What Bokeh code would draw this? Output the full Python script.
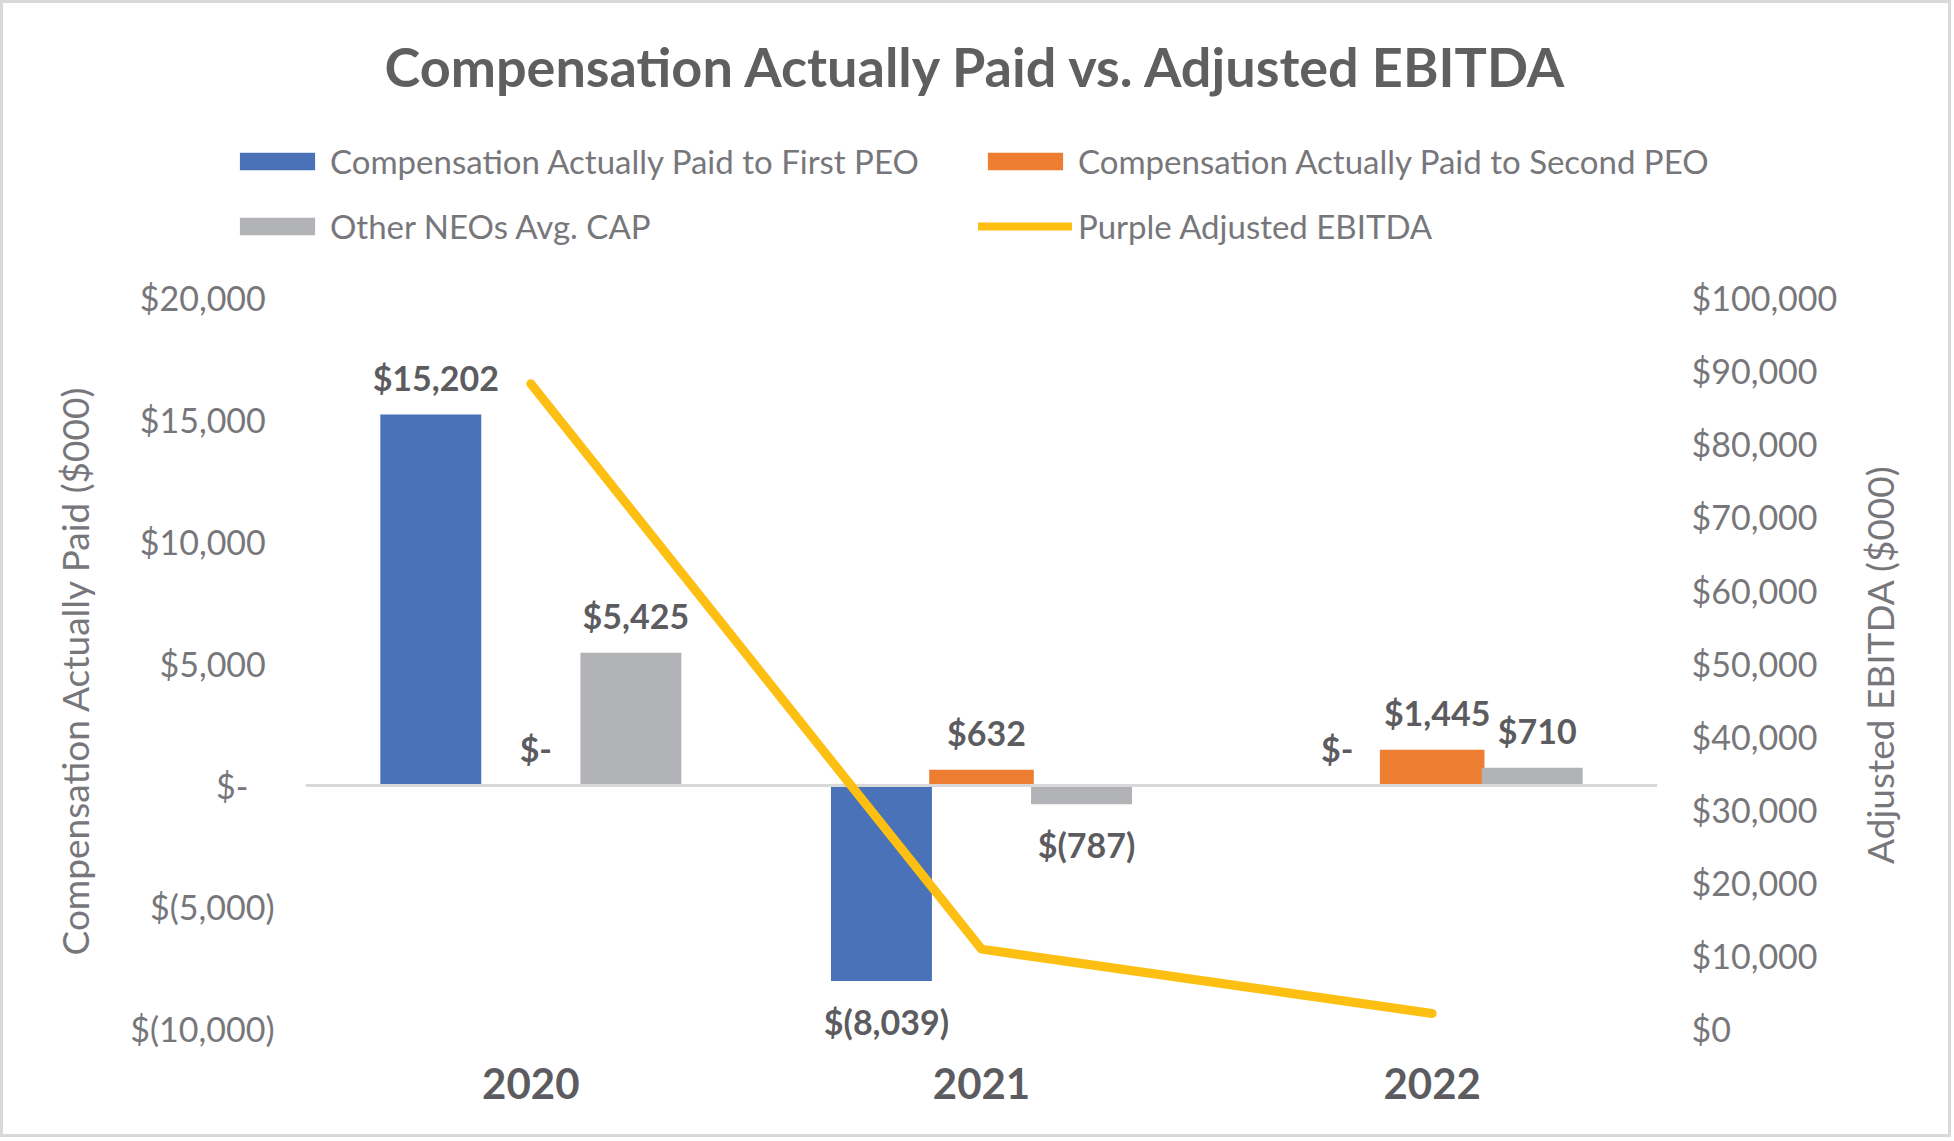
import math
from bokeh.plotting import figure
from bokeh.layouts import column, row
from bokeh.models import (FactorRange, Range1d, LinearAxis, FixedTicker,
                          ColumnDataSource, Legend, LegendItem, Label)
from bokeh.transform import dodge
from bokeh.core.properties import value
from bokeh.embed import file_html
from bokeh.resources import INLINE

# ---------------- data ----------------
years = ["2020", "2021", "2022"]
first_peo = [15202, -8039, 0]
second_peo = [0, 632, 1445]
other_neos = [5425, -787, 710]
ebitda = [88200, 10900, 2100]

left_ticks = [-10000, -5000, 0, 5000, 10000, 15000, 20000]
left_tick_labels = ["$(10,000)", "$(5,000)", "$-\u00a0\u00a0\u00a0",
                    "$5,000\u00a0", "$10,000\u00a0",
                    "$15,000\u00a0", "$20,000\u00a0"]
right_ticks = [0, 10000, 20000, 30000, 40000, 50000, 60000, 70000, 80000, 90000, 100000]
right_tick_labels = ["$0", "$10,000", "$20,000", "$30,000", "$40,000", "$50,000",
                     "$60,000", "$70,000", "$80,000", "$90,000", "$100,000"]

series_names = ["Compensation Actually Paid to First PEO",
                "Compensation Actually Paid to Second PEO",
                "Other NEOs Avg. CAP",
                "Purple Adjusted EBITDA"]

title_text = "Compensation Actually Paid vs. Adjusted EBITDA"
left_axis_title = "Compensation Actually Paid ($000)"
right_axis_title = "Adjusted EBITDA ($000)"

# ---------------- styles ----------------
FONT = "Lato"
BLUE = "#4a72b8"
ORANGE = "#ed7d31"
GREY = "#b2b3b6"
YELLOW = "#fdbf12"
TXT = "#5c5c60"
TICK = "#77777b"
FRAME = 3                 # outer light-grey border of the chart area
W = 1951 - 2 * FRAME
HEAD_H = 267 - FRAME


def fmt(v):
    if v == 0:
        return "$-"
    if v < 0:
        return "$({:,})".format(-v)
    return "${:,}".format(v)


def yoffs(vals):
    return [40 if v < 0 else -37 for v in vals]


src = ColumnDataSource(dict(
    years=years,
    first=first_peo, second=second_peo, other=other_neos, ebitda=ebitda,
    first_lbl=[fmt(v) for v in first_peo],
    second_lbl=[fmt(v) for v in second_peo],
    other_lbl=[fmt(v) for v in other_neos],
    first_off=yoffs(first_peo),
    second_off=yoffs(second_peo),
    other_off=yoffs(other_neos),
))

# ================= header (title + legend) =================
h = figure(width=W, height=HEAD_H, x_range=FactorRange(*years), y_range=Range1d(0, 1),
           x_axis_type=None, y_axis_type=None,
           output_backend="svg", toolbar_location=None,
           min_border_left=0, min_border_right=0, min_border_top=0, min_border_bottom=0)
h.background_fill_color = "white"
h.border_fill_color = "white"
h.outline_line_color = None
h.grid.visible = False

h.add_layout(Label(x=977 - FRAME, y=HEAD_H - (66 - FRAME), x_units="screen", y_units="screen",
                   text=title_text, text_font=FONT, text_font_style="bold",
                   text_font_size="54px", text_color="#5f5f5f",
                   text_align="center", text_baseline="middle"))

# hidden legend proxies carrying the series' styles
g1 = h.vbar(x="years", top="first", width=0.2, source=src,
            fill_color=BLUE, line_color=None, visible=False)
g2 = h.vbar(x="years", top="second", width=0.2, source=src,
            fill_color=ORANGE, line_color=None, visible=False)
g3 = h.vbar(x="years", top="other", width=0.2, source=src,
            fill_color=GREY, line_color=None, visible=False)
g4 = h.line(x="years", y="ebitda", source=src, line_color=YELLOW,
            line_width=8, line_cap="round", visible=False)

legend = Legend(items=[LegendItem(label=series_names[0], renderers=[g1]),
                       LegendItem(label=series_names[1], renderers=[g2]),
                       LegendItem(label=series_names[2], renderers=[g3]),
                       LegendItem(label=series_names[3], renderers=[g4])],
                orientation="horizontal", ncols=2, location=(230 - FRAME, 16))
legend.label_text_font = FONT
legend.label_text_font_size = "33px"
legend.label_text_color = TICK
legend.glyph_width = 94
legend.glyph_height = 22
legend.label_standoff = 6
legend.label_height = 50
legend.label_width = 633
legend.spacing = 15
legend.padding = 0
legend.margin = 0
legend.border_line_color = None
legend.background_fill_alpha = 0
legend.inactive_fill_alpha = 0
legend.click_policy = "none"
h.add_layout(legend)

# ================= main chart =================
# left range extended slightly below -10,000 so labels below bars are not clipped
FL = 305 - FRAME
FR = 190
TOP_B = 30
MAIN_H = 1137 - 2 * FRAME - HEAD_H
BOT_B = MAIN_H - TOP_B - 746
p = figure(frame_width=1352, frame_height=746,
           x_range=FactorRange(*years), y_range=Range1d(-10600, 20000),
           output_backend="svg", toolbar_location=None,
           min_border_left=FL, min_border_right=FR,
           min_border_top=TOP_B, min_border_bottom=BOT_B)
p.extra_y_ranges = {"ebitda": Range1d(-2000, 100000)}

p.background_fill_color = "white"
p.border_fill_color = "white"
p.outline_line_color = None
p.xgrid.visible = False
p.ygrid.visible = False

OFF = 0.222
BW = 0.224
b1 = p.vbar(x=dodge("years", -OFF, range=p.x_range), top="first", bottom=0,
            width=BW, source=src, fill_color=BLUE, line_color=None)
b2 = p.vbar(x=dodge("years", 0, range=p.x_range), top="second", bottom=0,
            width=BW + 0.008, source=src, fill_color=ORANGE, line_color=None)
b3 = p.vbar(x=dodge("years", OFF, range=p.x_range), top="other", bottom=0,
            width=BW, source=src, fill_color=GREY, line_color=None)

p.hspan(y=[0], line_color="#d9d9d9", line_width=3)

ln = p.line(x="years", y="ebitda", y_range_name="ebitda", source=src,
            line_color=YELLOW, line_width=9, line_cap="round", line_join="round")

for off, ycol, tcol, ocol in [(-OFF, "first", "first_lbl", "first_off"),
                              (0, "second", "second_lbl", "second_off"),
                              (OFF, "other", "other_lbl", "other_off")]:
    p.text(x=dodge("years", off, range=p.x_range), y=ycol, text=tcol,
           y_offset=ocol, x_offset=5, source=src,
           text_font=value(FONT), text_font_style="bold",
           text_font_size="34px", text_color=TXT,
           text_align="center", text_baseline="middle")

# ---------------- axes ----------------
xa = p.xaxis[0]
xa.axis_line_color = None
xa.major_tick_line_color = None
xa.minor_tick_line_color = None
xa.major_tick_out = 0
xa.major_tick_in = 0
xa.major_label_text_font = FONT
xa.major_label_text_font_style = "bold"
xa.major_label_text_font_size = "42px"
xa.major_label_text_color = TXT
xa.major_label_standoff = 24

ya = p.yaxis[0]
ya.ticker = FixedTicker(ticks=left_ticks)
ya.major_label_overrides = {t: l for t, l in zip(left_ticks, left_tick_labels)}
ya.axis_line_color = None
ya.major_tick_line_color = None
ya.minor_tick_line_color = None
ya.major_tick_out = 0
ya.major_tick_in = 0
ya.major_label_text_font = FONT
ya.major_label_text_font_size = "34px"
ya.major_label_text_color = TICK
ya.major_label_standoff = 31
ya.axis_label = left_axis_title
ya.axis_label_text_font = FONT
ya.axis_label_text_font_style = "normal"
ya.axis_label_text_font_size = "37px"
ya.axis_label_text_color = TICK
ya.axis_label_standoff = 30

# right axis: tick labels
yr = LinearAxis(y_range_name="ebitda", ticker=FixedTicker(ticks=right_ticks))
yr.major_label_overrides = {t: l for t, l in zip(right_ticks, right_tick_labels)}
yr.axis_line_color = None
yr.major_tick_line_color = None
yr.minor_tick_line_color = None
yr.major_tick_out = 0
yr.major_tick_in = 0
yr.major_label_text_font = FONT
yr.major_label_text_font_size = "34px"
yr.major_label_text_color = TICK
yr.major_label_standoff = 34
p.add_layout(yr, "right")

# ================= right-axis title strip (reads bottom-to-top) =================
MAIN_W = FL + 1352 + FR
SIDE_W = W - MAIN_W
s = figure(frame_width=SIDE_W, frame_height=746,
           x_range=Range1d(0, 1), y_range=Range1d(0, 1),
           x_axis_type=None, y_axis_type=None,
           output_backend="svg", toolbar_location=None,
           min_border_left=0, min_border_right=0,
           min_border_top=TOP_B, min_border_bottom=BOT_B)
s.background_fill_color = "white"
s.border_fill_color = "white"
s.outline_line_color = None
s.grid.visible = False
s.add_layout(Label(x=1879 - FRAME - MAIN_W, y=(297 + 746) - 664,
                   x_units="screen", y_units="screen",
                   text=right_axis_title, angle=math.pi / 2,
                   text_font=FONT, text_font_style="normal",
                   text_font_size="37px", text_color=TICK,
                   text_align="center", text_baseline="middle"))

layout = column(column(h), row(p, s, spacing=0), spacing=0)
layout.styles = {"margin": "%dpx" % FRAME, "outline": "%dpx solid #d9d9d9" % FRAME}

open("out.html", "w").write(file_html(layout, INLINE))
